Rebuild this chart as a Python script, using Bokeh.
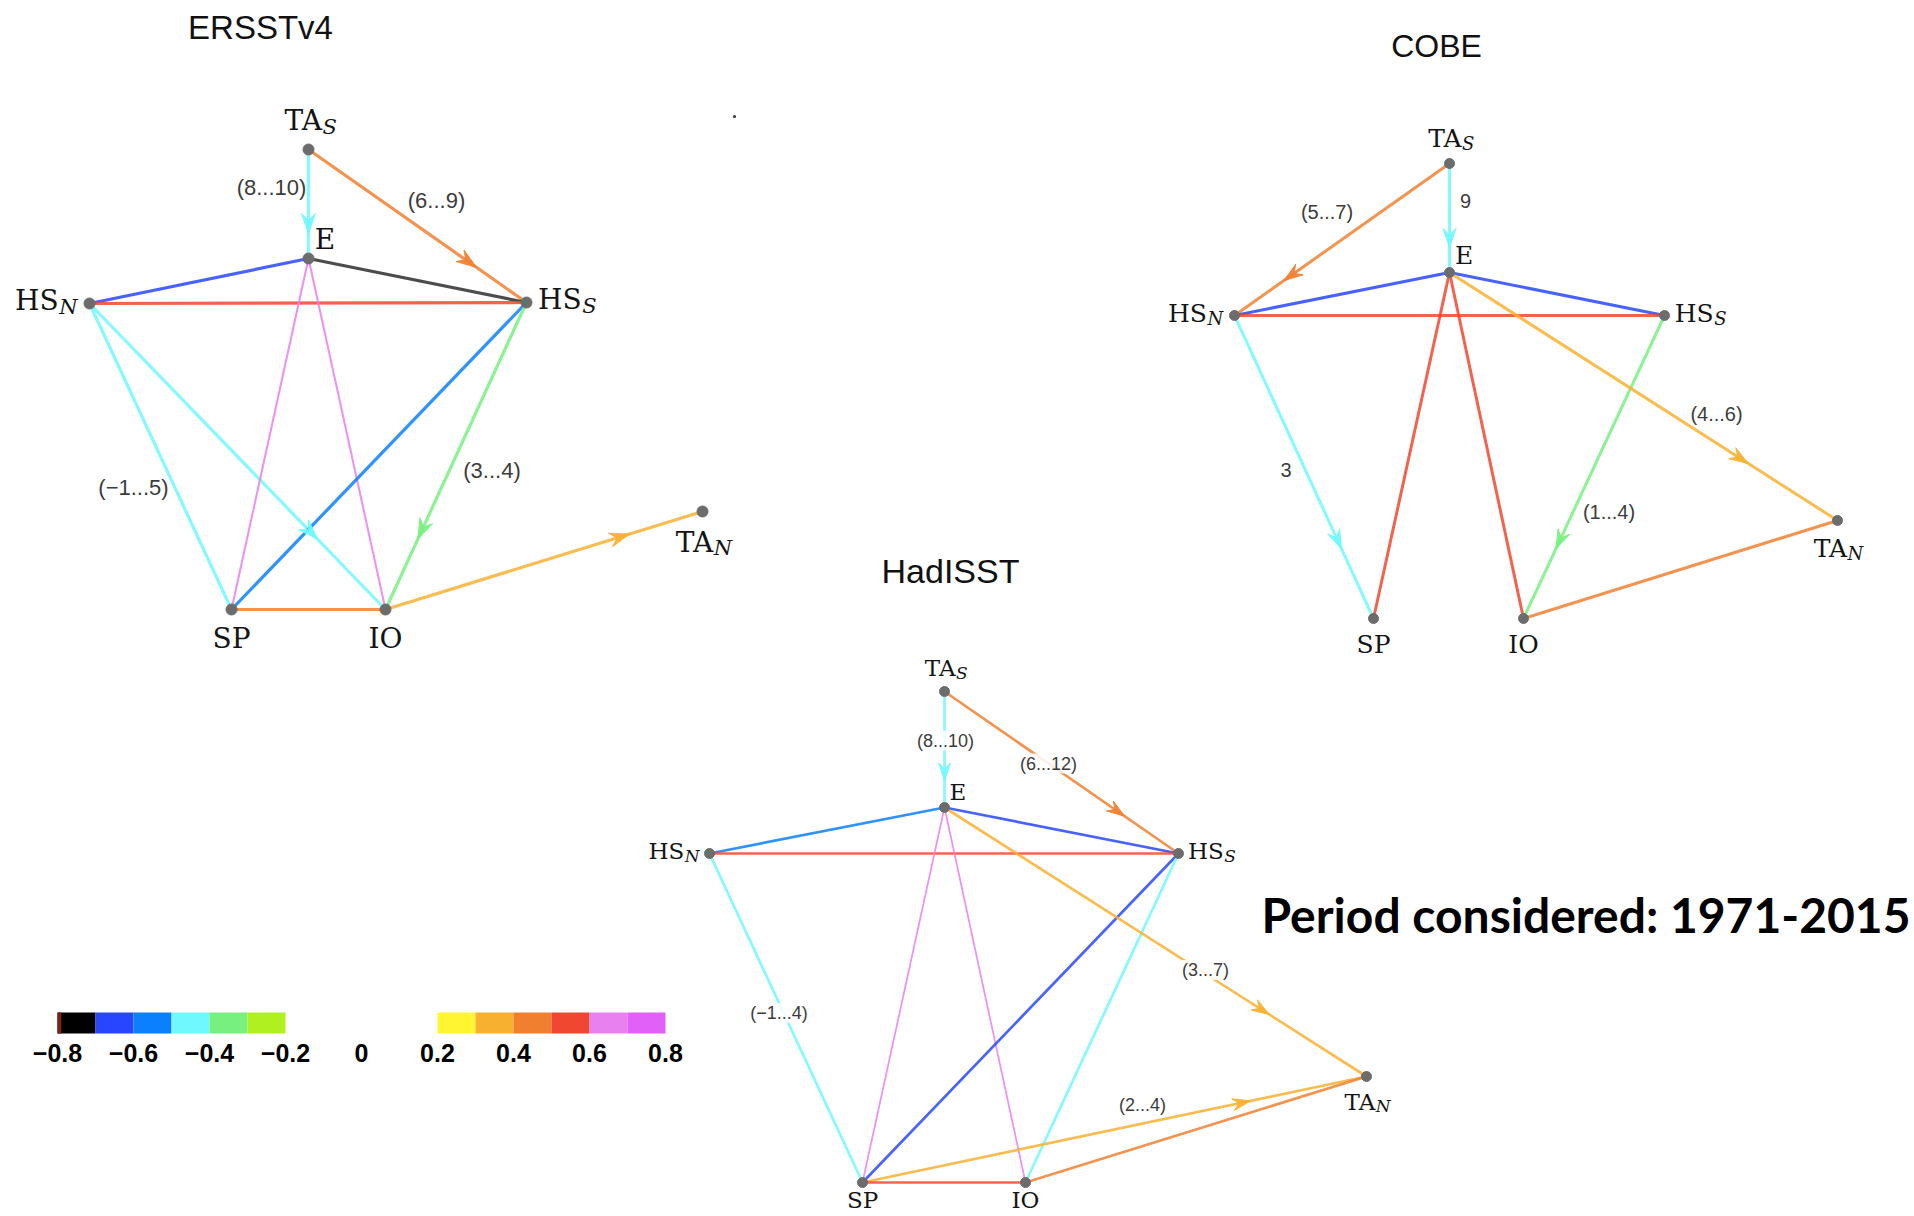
import math
from bokeh.plotting import figure
from bokeh.models import Range1d
from bokeh.core.properties import value
from bokeh.embed import file_html
from bokeh.resources import INLINE

# ---------------------------------------------------------------- data
node_names = ["TA_S", "E", "HS_N", "HS_S", "SP", "IO", "TA_N"]
node_main = ["TA", "E", "HS", "HS", "SP", "IO", "TA"]
node_sub = ["S", "", "N", "S", "", "", "N"]

titles = ["ERSSTv4", "COBE", "HadISST"]
period_label = "Period considered: 1971-2015"

# ERSSTv4 network
ersst_x = [308, 308, 89, 526, 231, 385, 702]
ersst_y = [149, 258, 303, 302, 609, 609, 511]
ersst_src = ["TA_S", "TA_S", "E", "E", "HS_N", "HS_N", "HS_N", "E", "E", "HS_S", "HS_S", "SP", "IO"]
ersst_dst = ["E", "HS_S", "HS_N", "HS_S", "HS_S", "SP", "IO", "SP", "IO", "SP", "IO", "IO", "TA_N"]
ersst_r = [-0.45, 0.45, -0.65, -0.75, 0.55, -0.45, -0.45, 0.65, 0.65, -0.55, -0.35, 0.45, 0.35]
ersst_dir = [1, 1, 0, 0, 0, 0, 1, 0, 0, 0, 1, 0, 1]
ersst_lag = ["(8...10)", "(6...9)", "", "", "", "", "(\u22121...5)", "", "", "", "(3...4)", "", ""]
ersst_lag_dx = [-37, 19, 0, 0, 0, 0, -104, 0, 0, 0, 36, 0, 0]
ersst_lag_dy = [-17, -26, 0, 0, 0, 0, 31, 0, 0, 0, 14, 0, 0]

# COBE network
cobe_x = [1449, 1449, 1234, 1664, 1373, 1523, 1837]
cobe_y = [163, 272, 315, 315, 618, 618, 520]
cobe_src = ["TA_S", "TA_S", "E", "E", "HS_N", "HS_N", "E", "E", "HS_S", "E", "IO"]
cobe_dst = ["E", "HS_N", "HS_N", "HS_S", "HS_S", "SP", "SP", "IO", "IO", "TA_N", "TA_N"]
cobe_r = [-0.45, 0.45, -0.65, -0.65, 0.55, -0.45, 0.55, 0.55, -0.35, 0.35, 0.45]
cobe_dir = [1, 1, 0, 0, 0, 1, 0, 0, 1, 1, 0]
cobe_lag = ["9", "(5...7)", "", "", "", "3", "", "", "(1...4)", "(4...6)", ""]
cobe_lag_dx = [16, -15, 0, 0, 0, -18, 0, 0, 15, 73, 0]
cobe_lag_dy = [-17, -28, 0, 0, 0, 3, 0, 0, 45, 17, 0]

# HadISST network
had_x = [944, 944, 709, 1178, 862, 1025, 1366]
had_y = [691, 807, 853, 853, 1182, 1182, 1076]
had_src = ["TA_S", "TA_S", "E", "E", "HS_N", "HS_N", "E", "E", "HS_S", "HS_S", "E", "SP", "SP", "IO"]
had_dst = ["E", "HS_S", "HS_N", "HS_S", "HS_S", "SP", "SP", "IO", "SP", "IO", "TA_N", "TA_N", "IO", "TA_N"]
had_r = [-0.45, 0.45, -0.55, -0.65, 0.55, -0.45, 0.65, 0.65, -0.65, -0.45, 0.35, 0.35, 0.55, 0.45]
had_dir = [1, 1, 0, 0, 0, 0, 0, 0, 0, 0, 1, 1, 0, 0]
had_lag = ["(8...10)", "(6...12)", "", "", "", "(\u22121...4)", "", "", "", "", "(3...7)", "(2...4)", "", ""]
had_lag_dx = [1, -13, 0, 0, 0, -7, 0, 0, 0, 0, 50, 28, 0, 0]
had_lag_dy = [-9, -9, 0, 0, 0, -5, 0, 0, 0, 0, 28, -25, 0, 0]

# colour scale of the correlation
cbar_lo = [-0.8, -0.7, -0.6, -0.5, -0.4, -0.3, 0.2, 0.3, 0.4, 0.5, 0.6, 0.7]
cbar_hi = [-0.7, -0.6, -0.5, -0.4, -0.3, -0.2, 0.3, 0.4, 0.5, 0.6, 0.7, 0.8]
cbar_colors = ["#000000", "#2846FF", "#0A80FF", "#70F8FF", "#78F080", "#B0F020",
               "#FFF530", "#F8B030", "#F08030", "#F04830", "#E880F0", "#E060F8"]
cbar_ticks = [-0.8, -0.6, -0.4, -0.2, 0.0, 0.2, 0.4, 0.6, 0.8]
cbar_tick_labels = ["\u22120.8", "\u22120.6", "\u22120.4", "\u22120.2", "0", "0.2", "0.4", "0.6", "0.8"]


def color_of(r):
    for lo, hi, c in zip(cbar_lo, cbar_hi, cbar_colors):
        if lo <= r < hi:
            return c
    return cbar_colors[-1]


# ---------------------------------------------------------------- figure
W, H = 1914, 1216
p = figure(width=W, height=H, x_range=Range1d(0, W), y_range=Range1d(H, 0),
           output_backend="svg", toolbar_location=None,
           x_axis_location=None, y_axis_location=None, min_border=0)
p.grid.visible = False
p.outline_line_color = None
p.background_fill_color = "white"
p.border_fill_color = "white"

LABEL_LAYOUT = {  # mode, dx (em), dy (em) of the text baseline
    "TA_S": ("junction", 0.48, -0.62),
    "E": ("left", 0.22, -0.27),
    "HS_N": ("junction", -1.10, 0.31),
    "HS_S": ("junction", 1.97, 0.31),
    "SP": ("center", 0.0, 1.45),
    "IO": ("center", 0.0, 1.45),
    "TA_N": ("junction", 0.38, 1.50),
}
BASELINE_FIX = 0.40  # em, the svg alphabetic baseline sits lower than expected


def draw_graph(xs, ys, src, dst, corr, directed, lags, ldx, ldy,
               node_fs, lag_fs, lw, head_len, head_w, dot, lag_bg, bottom_shift=0.0):
    idx = {n: i for i, n in enumerate(node_names)}
    x0 = [xs[idx[s]] for s in src]
    y0 = [ys[idx[s]] for s in src]
    x1 = [xs[idx[d]] for d in dst]
    y1 = [ys[idx[d]] for d in dst]
    cols = [color_of(r) for r in corr]
    widths = [lw * 0.65 if r >= 0.6 else lw for r in corr]
    alphas = [0.7 if r < -0.7 else 0.85 for r in corr]
    p.segment(x0, y0, x1, y1, line_color=cols, line_width=widths, line_alpha=alphas)

    # arrow heads
    hx, hy, hc = [], [], []
    for a, b, c, d, col, dr in zip(x0, y0, x1, y1, cols, directed):
        if not dr:
            continue
        L = math.hypot(c - a, d - b)
        ux, uy = (c - a) / L, (d - b) / L
        nx, ny = -uy, ux
        tx, ty = a + 0.77 * (c - a), b + 0.77 * (d - b)
        bx, by = tx - head_len * ux, ty - head_len * uy
        mx, my = tx - 0.65 * head_len * ux, ty - 0.65 * head_len * uy
        hx.append([tx, bx + head_w / 2 * nx, mx, bx - head_w / 2 * nx])
        hy.append([ty, by + head_w / 2 * ny, my, by - head_w / 2 * ny])
        hc.append(col)
    if hx:
        p.patches(hx, hy, fill_color=hc, line_color=hc, fill_alpha=0.92, line_alpha=0.92)

    # lag labels
    lx, ly, lt = [], [], []
    for a, b, c, d, t, dx, dy in zip(x0, y0, x1, y1, lags, ldx, ldy):
        if t:
            lx.append((a + c) / 2 + dx)
            ly.append((b + d) / 2 + dy)
            lt.append(t)
    kw = {}
    if lag_bg:
        kw = dict(background_fill_color="white", background_fill_alpha=0.85)
    p.text(lx, ly, text=lt, text_font=value("Liberation Sans"), text_font_size=f"{lag_fs}px",
           text_align="center", text_baseline="middle", text_color="#3c3c3c", **kw)

    # nodes
    p.scatter(xs, ys, size=dot, fill_color="#6c6c6c", line_color="#6c6c6c")

    # node labels
    groups = {"right": ([], [], []), "left": ([], [], []), "center": ([], [], [])}
    sx, sy, st = [], [], []
    for n, mt, sb, x, y in zip(node_names, node_main, node_sub, xs, ys):
        mode, dx, dy = LABEL_LAYOUT[n]
        if n in ("SP", "IO"):
            dy -= bottom_shift
        ax, ay = x + dx * node_fs, y + (dy - BASELINE_FIX) * node_fs
        al = "right" if mode == "junction" else mode
        groups[al][0].append(ax)
        groups[al][1].append(ay)
        groups[al][2].append(mt)
        if sb:
            sx.append(ax + 0.5)
            sy.append(ay + 0.2 * node_fs)
            st.append(sb)
    for al, (gx, gy, gt) in groups.items():
        if gx:
            p.text(gx, gy, text=gt, text_font=value("DejaVu Serif"), text_font_size=f"{node_fs}px",
                   text_align=al, text_baseline="alphabetic", text_color="#141414")
    p.text(sx, sy, text=st, text_font=value("DejaVu Serif"), text_font_style="italic",
           text_font_size=f"{round(node_fs * 0.74)}px", text_align="left",
           text_baseline="alphabetic", text_color="#141414")


draw_graph(ersst_x, ersst_y, ersst_src, ersst_dst, ersst_r, ersst_dir, ersst_lag,
           ersst_lag_dx, ersst_lag_dy, node_fs=28, lag_fs=22, lw=3.2, head_len=20, head_w=14,
           dot=11, lag_bg=False)
draw_graph(cobe_x, cobe_y, cobe_src, cobe_dst, cobe_r, cobe_dir, cobe_lag,
           cobe_lag_dx, cobe_lag_dy, node_fs=25, lag_fs=20, lw=3.0, head_len=19, head_w=13,
           dot=10, lag_bg=False)
draw_graph(had_x, had_y, had_src, had_dst, had_r, had_dir, had_lag,
           had_lag_dx, had_lag_dy, node_fs=23, lag_fs=18, lw=2.7, head_len=18, head_w=12,
           dot=10, lag_bg=True, bottom_shift=0.3)

# stray dot in the original
p.scatter([734], [116], size=3, fill_color="#333333", line_color=None)

# titles
p.text([260, 1436, 950], [27, 45, 570], text=titles, text_font=value("Liberation Sans"),
       text_font_size=["33px", "32px", "34px"], text_align="center", text_baseline="middle",
       text_color="#111111")

# period text
p.text([1261], [914], text=[period_label], text_font=value("Lato"), text_font_style="bold",
       text_font_size="48px", text_align="left", text_baseline="alphabetic", text_color="#000000")

# colour bar
def cx(v):
    return 361 + 380 * v

p.quad(left=[cx(v) for v in cbar_lo], right=[cx(v) for v in cbar_hi],
       top=[1012] * len(cbar_lo), bottom=[1033] * len(cbar_lo),
       fill_color=cbar_colors, line_color=None)
p.quad(left=[cx(-0.8)], right=[cx(-0.79)], top=[1012], bottom=[1033],
       fill_color="#7a2418", line_color=None)
p.text([cx(v) for v in cbar_ticks], [1052] * len(cbar_ticks), text=cbar_tick_labels,
       text_font=value("Liberation Sans"), text_font_style="bold", text_font_size="25px",
       text_align="center", text_baseline="middle", text_color="#000000")

open("out.html", "w").write(file_html(p, INLINE))
